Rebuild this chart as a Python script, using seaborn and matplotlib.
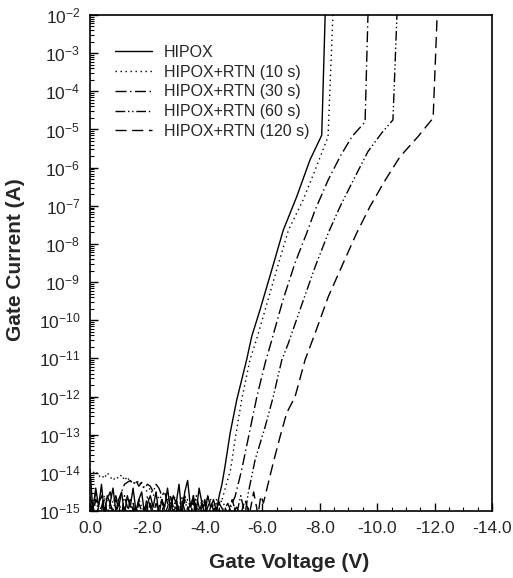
import numpy as np
import pandas as pd
import matplotlib
matplotlib.use("Agg")
import matplotlib.pyplot as plt
from matplotlib.ticker import LogLocator, MultipleLocator, FixedLocator, FixedFormatter, NullFormatter
import seaborn as sns

# ---------------- data ----------------
series_names = ["HIPOX", "HIPOX+RTN (10 s)", "HIPOX+RTN (30 s)",
                "HIPOX+RTN (60 s)", "HIPOX+RTN (120 s)"]

# noise-floor sampling voltages (V)
noise_v = [0.0, -0.1, -0.2, -0.3, -0.4, -0.5, -0.6, -0.7, -0.8, -0.9,
           -1.0, -1.1, -1.2, -1.3, -1.4, -1.5, -1.6, -1.7, -1.8, -1.9,
           -2.0, -2.1, -2.2, -2.3, -2.4, -2.5, -2.6, -2.7, -2.8, -2.9,
           -3.0, -3.1, -3.2, -3.3, -3.4, -3.5, -3.6, -3.7, -3.8, -3.9,
           -4.0, -4.1, -4.2, -4.3, -4.4, -4.5]

# log10 of gate current on the noise floor
hipox_noise = [-13.9, -15.0, -14.4, -14.9, -14.3, -15.1, -14.6, -14.8, -14.4, -15.0,
               -14.7, -14.5, -15.1, -14.6, -14.9, -14.4, -15.0, -14.7, -14.5, -15.1,
               -14.8, -14.6, -14.9, -14.5, -15.1, -14.7, -14.9, -14.4, -15.0, -14.6,
               -14.8, -14.3, -15.1, -14.5, -14.2, -14.9, -14.6, -15.0, -14.4, -14.8,
               -15.1, -14.6, -14.9, -14.7, -15.0, -14.6]
rtn10_noise = [-14.1, -14.0, -13.95, -14.1, -14.05, -14.15, -14.0, -14.1, -14.2, -14.1,
               -14.15, -14.05, -14.2, -14.1, -14.25, -14.2, -14.3, -14.2, -14.35, -14.4,
               -14.5, -14.4, -14.6, -14.5, -14.7, -14.6, -14.5, -14.7, -14.8, -14.6,
               -14.7, -14.9, -14.6, -14.8, -14.7, -14.9, -14.6, -14.8, -15.0, -14.7,
               -14.9, -14.6, -14.8, -14.9, -14.7, -14.8]
rtn30_noise = [-14.6, -14.9, -14.5, -14.8, -14.6, -15.0, -14.7, -14.5, -14.8, -14.6,
               -14.9, -14.5, -14.3, -14.25, -14.2, -14.3, -14.2, -14.35, -14.25, -14.4,
               -14.3, -14.35, -14.5, -14.3, -14.4, -14.6, -14.5, -14.8, -14.6, -14.9,
               -14.7, -15.0, -14.8, -14.6, -14.9, -15.1, -14.7, -14.9, -15.0, -14.8,
               -15.1, -14.9, -14.7, -15.0, -14.8, -15.1]
rtn60_noise = [-14.8, -15.1, -14.7, -15.0, -14.9, -14.6, -15.1, -14.8, -15.0, -14.7,
               -14.9, -15.1, -14.6, -14.9, -15.0, -14.8, -15.1, -14.7, -14.9, -15.0,
               -14.6, -14.9, -15.1, -14.8, -15.0, -14.7, -15.1, -14.9, -14.6, -15.0,
               -14.8, -15.1, -14.9, -14.7, -15.0, -14.8, -15.1, -14.6, -14.9, -15.0,
               -14.7, -15.1, -14.9, -14.8, -15.0, -14.7]
rtn120_noise = [-15.0, -14.8, -15.1, -14.9, -15.0, -14.7, -15.1, -14.9, -15.0, -15.1,
                -14.8, -15.0, -14.9, -15.1, -14.7, -15.0, -15.1, -14.8, -15.0, -14.9,
                -15.1, -14.8, -15.0, -15.1, -14.9, -14.7, -15.0, -15.1, -14.8, -15.0,
                -14.9, -15.1, -14.7, -15.0, -14.9, -15.1, -14.8, -15.0, -15.1, -14.9,
                -14.8, -15.1, -15.0, -14.9, -15.1, -14.8]

# conduction / breakdown part of each curve (V, log10 I)
hipox_v = [-4.59, -4.70, -4.88, -5.11, -5.46, -5.63, -5.92, -6.33, -6.73, -7.20, -7.66, -8.07, -8.19]
hipox_logi = [-14.32, -13.84, -12.96, -12.09, -11.02, -10.43, -9.73, -8.68, -7.64, -6.76, -5.80, -5.15, -2.0]

rtn10_v = [-4.60, -4.75, -4.90, -5.05, -5.28, -5.57, -5.80, -6.10, -6.50, -6.91, -7.42, -7.90, -8.29, -8.46]
rtn10_logi = [-14.7, -14.3, -13.9, -13.14, -12.09, -11.04, -10.5, -9.73, -8.68, -7.64, -6.85, -5.95, -5.19, -2.0]

rtn30_v = [-4.65, -4.80, -4.95, -5.05, -5.28, -5.57, -5.81, -6.10, -6.33, -6.72, -7.14, -7.55, -7.84, -8.29, -8.71, -9.12, -9.58, -9.68]
rtn30_logi = [-14.9, -15.1, -14.8, -14.63, -13.93, -12.88, -12.01, -11.12, -10.52, -9.47, -8.50, -7.71, -7.11, -6.33, -5.71, -5.19, -4.80, -2.0]

rtn60_v = [-4.65, -4.80, -4.95, -5.10, -5.25, -5.40, -5.51, -5.75, -6.10, -6.38, -6.68, -6.91, -7.31, -7.84, -8.30, -8.71, -9.23, -9.68, -10.16, -10.55, -10.69]
rtn60_logi = [-14.8, -15.1, -14.7, -15.1, -14.6, -15.1, -14.53, -13.66, -12.79, -12.01, -11.04, -10.60, -9.73, -8.60, -7.71, -7.02, -6.24, -5.58, -5.09, -4.75, -2.0]

rtn120_v = [-4.65, -4.80, -4.95, -5.10, -5.25, -5.40, -5.55, -5.70, -5.85, -5.95,
            -6.04, -6.15, -6.38, -6.62, -6.85, -7.14, -7.49, -7.84, -8.30, -8.82, -9.29, -9.75, -10.28, -10.80, -11.42, -11.95, -12.09]
rtn120_logi = [-15.0, -14.8, -15.1, -14.9, -15.1, -14.7, -15.1, -14.5, -15.1, -14.6,
               -14.79, -14.45, -13.74, -13.05, -12.43, -12.01, -11.04, -10.34, -9.38, -8.50, -7.71, -7.02, -6.33, -5.71, -5.19, -4.70, -2.0]

xtick_values = [0, -2, -4, -6, -8, -10, -12, -14]
xtick_labels = ["0.0", "-2.0", "-4.0", "-6.0", "-8.0", "-10.0", "-12.0", "-14.0"]
ytick_exponents = [-2, -3, -4, -5, -6, -7, -8, -9, -10, -11, -12, -13, -14, -15]

# ---------------- build long-form table ----------------
noise_sets = [hipox_noise, rtn10_noise, rtn30_noise, rtn60_noise, rtn120_noise]
curve_v = [hipox_v, rtn10_v, rtn30_v, rtn60_v, rtn120_v]
curve_l = [hipox_logi, rtn10_logi, rtn30_logi, rtn60_logi, rtn120_logi]
frames = []
for name, nz, cv, cl in zip(series_names, noise_sets, curve_v, curve_l):
    v = list(noise_v) + list(cv)
    l = list(nz) + list(cl)
    frames.append(pd.DataFrame({"V": v, "I": np.power(10.0, l), "series": name}))
df = pd.concat(frames, ignore_index=True)

# ---------------- style ----------------
sns.set_theme(style="ticks")
plt.rcParams["font.family"] = ["Liberation Sans", "DejaVu Sans"]
plt.rcParams["mathtext.fontset"] = "custom"
plt.rcParams["mathtext.rm"] = "Liberation Sans"

fig = plt.figure(figsize=(5.13, 5.78), dpi=100)
ax = fig.add_axes([90 / 513, 1 - 511 / 578, 402 / 513, 496 / 578])

dash_map = {
    "HIPOX": "",
    "HIPOX+RTN (10 s)": (1, 2.6),
    "HIPOX+RTN (30 s)": (8, 2.5, 1, 2.5),
    "HIPOX+RTN (60 s)": (7, 2, 1, 2, 1, 2),
    "HIPOX+RTN (120 s)": (8, 4),
}
sns.lineplot(data=df, x="V", y="I", hue="series", style="series",
             hue_order=series_names, style_order=series_names,
             palette=["black"] * 5, dashes=dash_map, estimator=None,
             sort=False, linewidth=1.0, ax=ax, legend=True)

ax.set_yscale("log")
ax.set_xlim(0, -14)
ax.set_ylim(1e-15, 1e-2)

ax.xaxis.set_major_locator(FixedLocator(xtick_values))
ax.xaxis.set_major_formatter(FixedFormatter(xtick_labels))
ax.xaxis.set_minor_locator(MultipleLocator(0.5))

ax.yaxis.set_major_locator(FixedLocator([10.0 ** e for e in ytick_exponents]))
ax.yaxis.set_major_formatter(FixedFormatter([r"$\mathdefault{10^{%d}}$" % e for e in ytick_exponents]))
ax.yaxis.set_minor_locator(LogLocator(base=10, subs=np.arange(2, 10), numticks=100))
ax.yaxis.set_minor_formatter(NullFormatter())

ax.tick_params(which="both", direction="in", top=False, right=False, color="black")
ax.tick_params(which="major", length=6, width=1.0, labelsize=12.5, pad=7)
ax.tick_params(which="minor", length=3, width=0.8)
for s in ax.spines.values():
    s.set_linewidth(1.2)
    s.set_color("black")

ax.set_xlabel("")
ax.set_ylabel("")
fig.text(16 / 513, 1 - 260 / 578, "Gate Current (A)", rotation=90,
         ha="center", va="center", fontsize=15, fontweight="bold")
fig.text(289 / 513, 1 - 563 / 578, "Gate Voltage (V)",
         ha="center", va="center", fontsize=15, fontweight="bold")

handles, labels = ax.get_legend_handles_labels()
ax.legend(handles, labels, loc="upper left", bbox_to_anchor=(0.062, 0.94),
          frameon=False, fontsize=11.5, handlelength=2.3, handletextpad=0.75,
          labelspacing=0.3, borderaxespad=0, borderpad=0)

fig.savefig("out.png", dpi=100)
